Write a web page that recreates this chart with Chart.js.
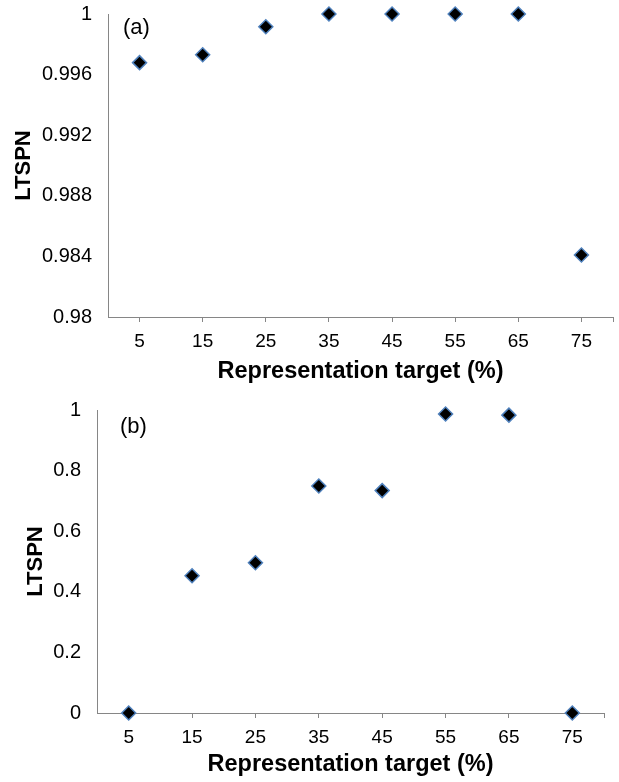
<!DOCTYPE html>
<html>
<head>
<meta charset="utf-8">
<script src="https://cdn.jsdelivr.net/npm/chart.js@4.4.1/dist/chart.umd.min.js"></script>
<style>
  body { margin: 0; background: #fff; }
  .panel { position: absolute; left: 0; }
</style>
</head>
<body>
<div class="panel" style="top:0"><canvas id="chartA" width="619" height="390"></canvas></div>
<div class="panel" style="top:390px"><canvas id="chartB" width="619" height="392"></canvas></div>
<script>
// data
const targets = [5, 15, 25, 35, 45, 55, 65, 75];
const ltspnA = [0.99679, 0.99731, 0.99916, 1.0, 1.0, 1.0, 1.0, 0.98409];
const ltspnB = [0, 0.453, 0.496, 0.749, 0.734, 0.987, 0.983, 0];
const xMax = 80;
const xTicks = targets.concat([xMax]);

const axisGray = "#868686";
const font = "'Liberation Sans', Arial, sans-serif";

Chart.defaults.font.family = font;
Chart.defaults.color = "#000";

// "(a)" / "(b)" tag in the corner of each plot
const panelTag = {
    id: "panelTag",
    afterDraw(chart, args, opts) {
        const ctx = chart.ctx;
        const area = chart.chartArea;
        ctx.save();
        ctx.font = "22px " + font;
        ctx.fillStyle = "#000";
        ctx.textBaseline = "middle";
        ctx.fillText(opts.text, area.left + opts.dx, area.top + opts.dy);
        ctx.restore();
    }
};

function makeChart(id, values, yOpts, layout) {
    const points = targets.map((t, i) => ({ x: t, y: values[i] }));
    return new Chart(document.getElementById(id), {
        type: "scatter",
        data: {
            datasets: [{
                data: points,
                pointStyle: "rectRot",
                pointRadius: 7,
                pointHoverRadius: 7,
                backgroundColor: "#000",
                borderColor: "#4f81bd",
                borderWidth: 1.5,
                clip: false
            }]
        },
        options: {
            responsive: false,
            animation: false,
            devicePixelRatio: 1,
            layout: { padding: layout.padding, autoPadding: false },
            plugins: {
                legend: { display: false },
                tooltip: { enabled: false },
                panelTag: layout.tag
            },
            scales: {
                x: {
                    type: "linear",
                    min: 0,
                    max: xMax,
                    afterBuildTicks: (scale) => {
                        scale.ticks = xTicks.map(v => ({ value: v }));
                    },
                    afterFit: (scale) => {
                        scale.height = layout.xHeight;
                        scale.paddingLeft = 0;
                        scale.paddingRight = 0;
                    },
                    ticks: {
                        font: { size: 19 },
                        padding: 8,
                        maxRotation: 0,
                        autoSkip: false,
                        callback: (v) => v === xMax ? "" : String(v)
                    },
                    grid: {
                        drawOnChartArea: false,
                        tickLength: 5,
                        color: axisGray
                    },
                    border: { color: axisGray, width: 1 },
                    title: {
                        display: true,
                        text: "Representation target (%)",
                        font: { size: 23.5, weight: "bold" },
                        padding: { top: 0, bottom: layout.xTitlePad }
                    }
                },
                y: {
                    min: yOpts.min,
                    max: yOpts.max,
                    afterFit: (scale) => {
                        scale.width = layout.yWidth;
                        scale.paddingTop = 0;
                        scale.paddingBottom = 0;
                    },
                    ticks: {
                        stepSize: yOpts.step,
                        font: { size: 20 },
                        padding: 16,
                        callback: (v) => String(+v.toFixed(3))
                    },
                    grid: {
                        drawOnChartArea: false,
                        drawTicks: false,
                        color: axisGray
                    },
                    border: { color: axisGray, width: 1 },
                    title: {
                        display: true,
                        text: "LTSPN",
                        font: { size: 22, weight: "bold" },
                        padding: { top: layout.yTitlePad, bottom: 0 }
                    }
                }
            }
        },
        plugins: [panelTag]
    });
}

makeChart("chartA", ltspnA, { min: 0.98, max: 1, step: 0.004 }, {
    padding: { top: 14, right: 6, bottom: 0, left: 0 },
    xHeight: 73,
    yWidth: 108,
    xTitlePad: 4,
    yTitlePad: 11,
    tag: { text: "(a)", dx: 15, dy: 14 }
});

makeChart("chartB", ltspnB, { min: 0, max: 1, step: 0.2 }, {
    padding: { top: 20, right: 15, bottom: 0, left: 0 },
    xHeight: 69,
    yWidth: 97,
    xTitlePad: 3,
    yTitlePad: 23,
    tag: { text: "(b)", dx: 23, dy: 17 }
});
</script>
</body>
</html>
